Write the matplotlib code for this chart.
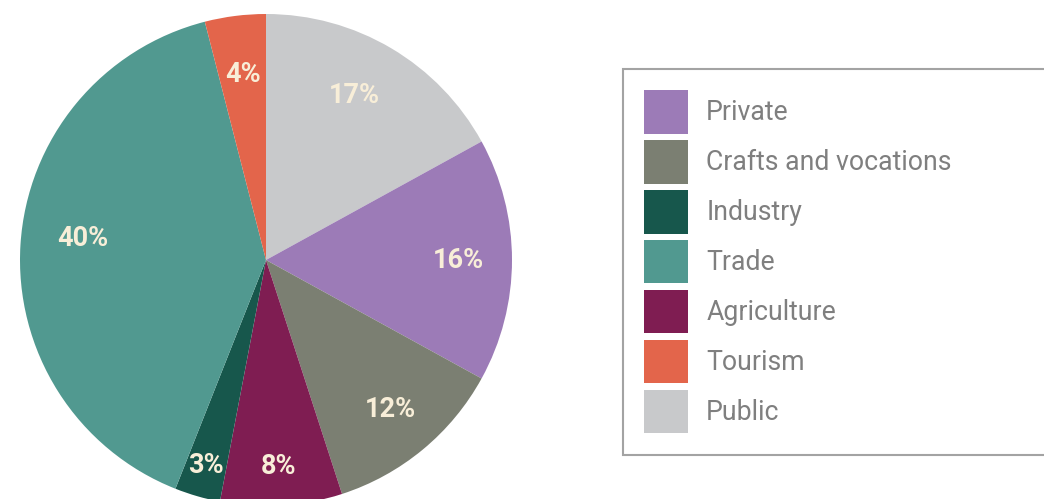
import matplotlib.pyplot as plt
import numpy as np

# Data, in pie order (clockwise from the top)
sectors = ["Public", "Private", "Crafts and vocations", "Agriculture", "Industry", "Trade", "Tourism"]
shares = [17, 16, 12, 8, 3, 40, 4]
colors = ["#c8c9cb", "#9c7bb7", "#7b7f72", "#7f1d52", "#17574c", "#519990", "#e3654b"]

# Legend order
legend_order = ["Private", "Crafts and vocations", "Industry", "Trade", "Agriculture", "Tourism", "Public"]

# Label distance from centre (fraction of radius)
label_dist = [0.76, 0.78, 0.79, 0.84, 0.87, 0.75, 0.76]

plt.rcParams["font.family"] = ["Roboto", "DejaVu Sans"]

fig = plt.figure(figsize=(10.44, 4.99), dpi=100)
ax = fig.add_axes([0, 0, 1, 1])

cx, cy, r = 266, 239, 246
wedges, _ = ax.pie(shares, colors=colors, startangle=90, counterclock=False,
                   center=(cx, cy), radius=r, frame=True,
                   wedgeprops=dict(linewidth=0))
ax.set_xlim(0, 1044)
ax.set_ylim(0, 499)
ax.set_aspect("equal")
ax.axis("off")

# Percentage labels
for w, s, d in zip(wedges, shares, label_dist):
    ang = np.deg2rad((w.theta1 + w.theta2) / 2)
    if s == 40:
        ang += np.deg2rad(-3)
    if s == 17:
        ang += np.deg2rad(2.5)
    ax.text(cx + d * r * np.cos(ang), cy + d * r * np.sin(ang), f"{s}%",
            ha="center", va="center", fontsize=19.5, fontweight="bold", color="#f8eed8")

# Legend
handles = [wedges[sectors.index(name)] for name in legend_order]
leg = ax.legend(handles, legend_order, loc="upper left",
                bbox_to_anchor=(623 / 1044, 43 / 499, 0.6, 387 / 499),
                bbox_transform=fig.transFigure, mode="expand",
                fontsize=19.2, frameon=True, fancybox=False,
                handlelength=1.62, handleheight=2.12, handletextpad=0.7,
                labelspacing=0.25, borderpad=0.8, borderaxespad=0)
leg.get_frame().set_edgecolor("#8c8c8c")
leg.get_frame().set_linewidth(1.5)
for t in leg.get_texts():
    t.set_color("#7f7f7f")

plt.savefig("out.png", dpi=100)
